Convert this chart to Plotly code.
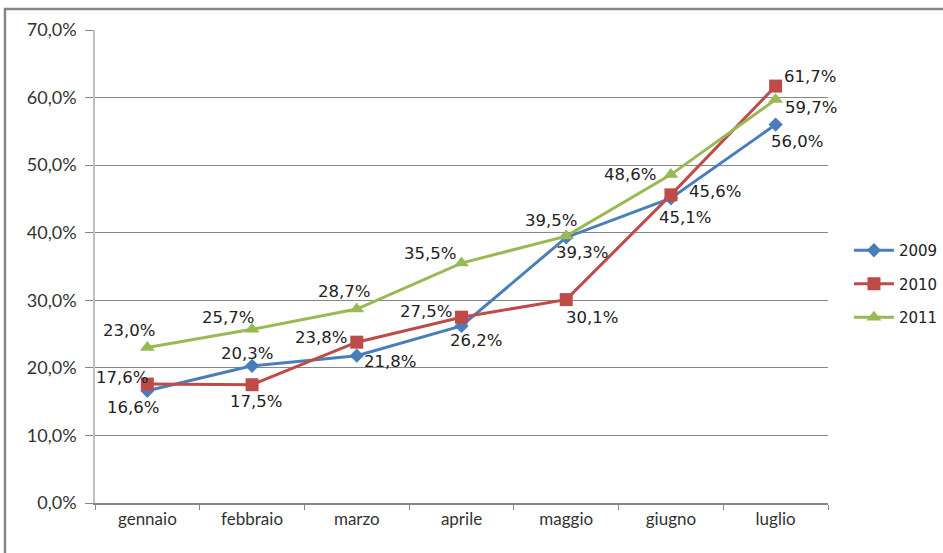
import plotly.graph_objects as go

months = ["gennaio", "febbraio", "marzo", "aprile", "maggio", "giugno", "luglio"]
v2009 = [16.6, 20.3, 21.8, 26.2, 39.3, 45.1, 56.0]
v2010 = [17.6, 17.5, 23.8, 27.5, 30.1, 45.6, 61.7]
v2011 = [23.0, 25.7, 28.7, 35.5, 39.5, 48.6, 59.7]

# label offsets (pixels, dx right, dy down) relative to each point
off2009 = [(-14, 17), (-5, -12), (33, 6), (14, 15), (16, 15), (14, 19), (21, 17)]
off2010 = [(-25, -7), (4, 17), (-36, -5), (-36, -6), (26, 18), (44, -3), (34, -10)]
off2011 = [(-18, -17), (-24, -12), (-13, -18), (-32, -10), (-15, -16), (-41, 0), (35, 8)]

series = [
    ("2009", v2009, off2009, "#4a7ebb", "diamond", 11),
    ("2010", v2010, off2010, "#be4b48", "square", 13),
    ("2011", v2011, off2011, "#98b954", "triangle-up", 13),
]

fig = go.Figure()
annotations = []
for name, vals, offs, color, sym, msize in series:
    ys = [v / 100 for v in vals]
    fig.add_trace(go.Scatter(
        x=months, y=ys, name=name, legendgroup=name,
        mode="lines+markers",
        line=dict(color=color, width=3),
        marker=dict(symbol=sym, size=msize, color=color),
        cliponaxis=False,
    ))
    for m, v, (dx, dy) in zip(months, vals, offs):
        annotations.append(dict(
            x=m, y=v / 100, xref="x", yref="y",
            text=f"{v:.1f}%".replace(".", ","),
            showarrow=False, xanchor="center", yanchor="middle",
            xshift=dx, yshift=-dy,
            font=dict(family="DejaVu Sans", size=16.5, color="#222222"),
        ))

fig.update_layout(
    width=943, height=553,
    margin=dict(l=95, r=115, t=30, b=50, autoexpand=False),
    paper_bgcolor="white", plot_bgcolor="white",
    separators=",.",
    showlegend=True,
    legend=dict(x=1.0286, y=0.463, xanchor="left", yanchor="middle",
                font=dict(family="DejaVu Sans", size=15, color="#222222"),
                traceorder="grouped", tracegroupgap=11, itemwidth=40),
    xaxis=dict(type="category", range=[-0.5, 6.5], tickson="boundaries",
               ticks="outside", ticklen=5, tickcolor="#868686",
               showline=True, linecolor="#868686", linewidth=1.5,
               showgrid=False, automargin=False,
               tickfont=dict(family="Lato", size=17, color="#333333")),
    yaxis=dict(range=[0, 0.7], dtick=0.1, tickformat=".1%",
               ticks="outside", ticklen=8, tickcolor="#868686",
               ticklabelstandoff=5,
               showline=True, linecolor="#c0c0c0", linewidth=1.5,
               showgrid=True, gridcolor="#868686", gridwidth=1,
               zeroline=False, automargin=False,
               tickfont=dict(family="Lato", size=18, color="#333333")),
    annotations=annotations,
    shapes=[dict(type="rect", xref="paper", yref="paper",
                 x0=-0.1228, x1=1.2, y0=-0.2, y1=1.0444,
                 line=dict(color="#868686", width=2.5), layer="below")],
)

fig.write_html("out.html", config={"displayModeBar": False},
               post_script="document.body.style.margin='0';")
